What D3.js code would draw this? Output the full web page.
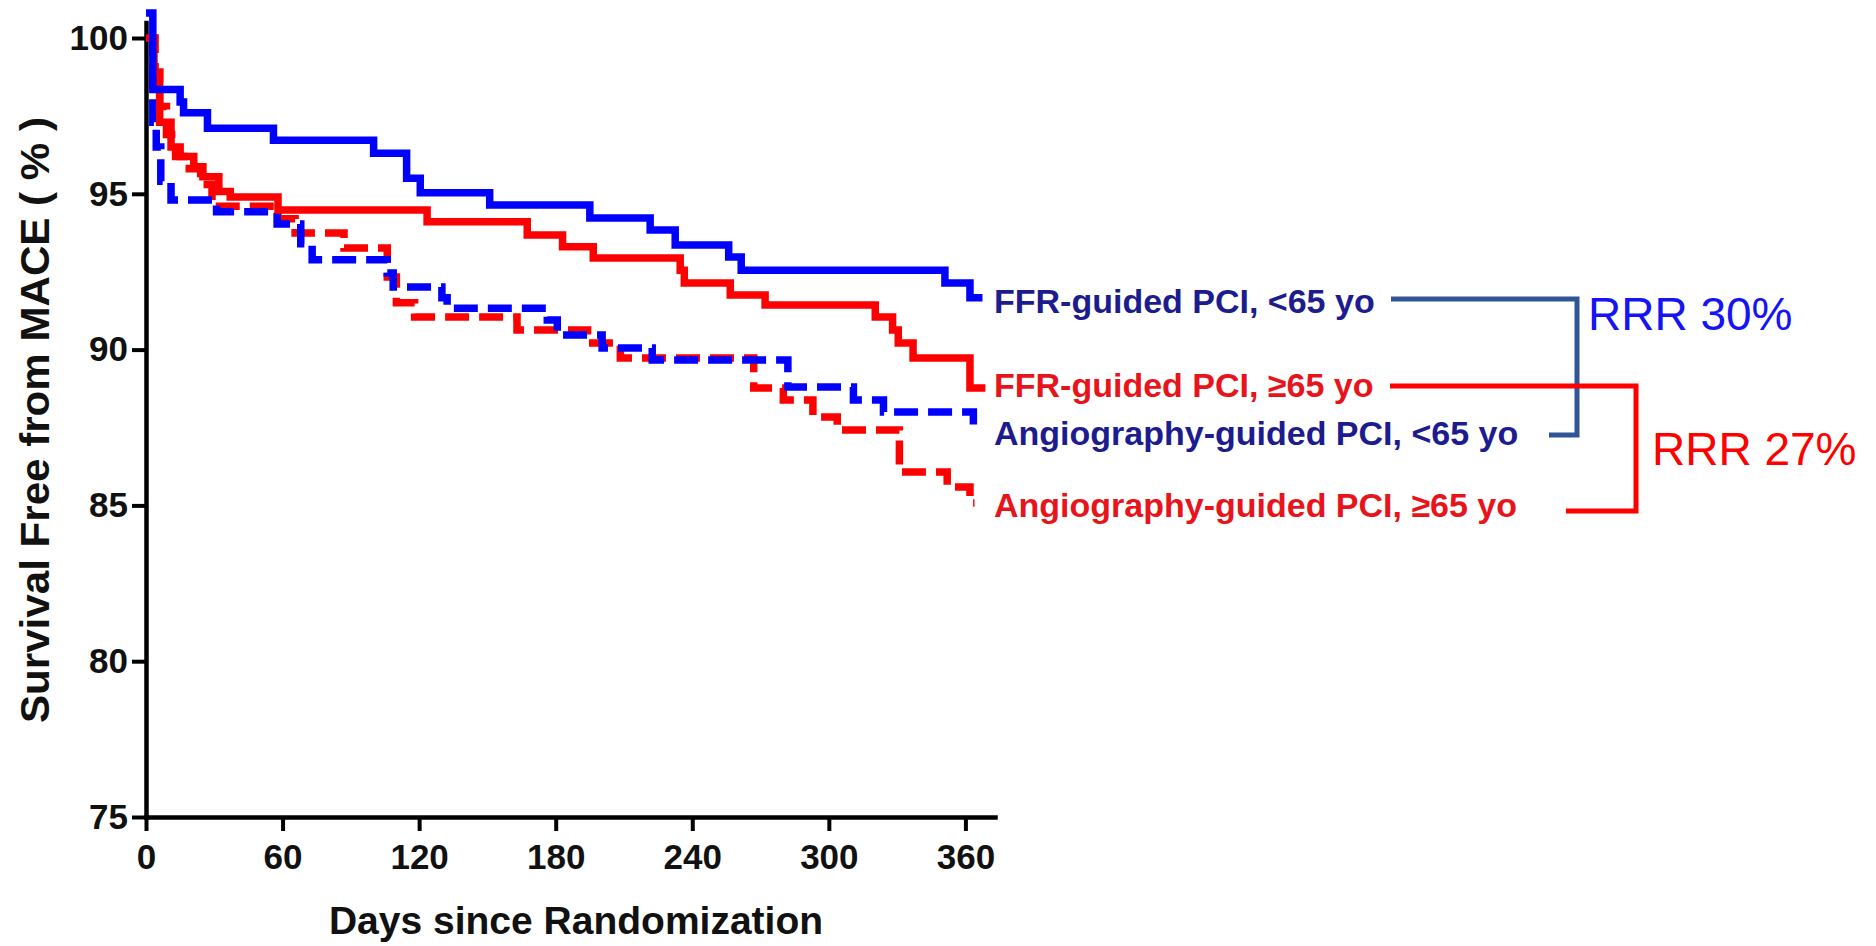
<!DOCTYPE html>
<html><head><meta charset="utf-8">
<script src="https://cdn.jsdelivr.net/npm/d3@7"></script>
<style>html,body{margin:0;padding:0;background:#fff;} svg{display:block;}</style>
</head><body>
<svg id="chart" width="1876" height="946"></svg>
<script>
// ---------- data ----------
const dayTicks = [0, 60, 120, 180, 240, 300, 360];
const survTicks = [75, 80, 85, 90, 95, 100];

// FFR-guided PCI, <65 yo (solid blue)
const ffrYoungDays = [0, 3, 15, 16.5, 27, 56, 100, 114.5, 120.5, 151, 195, 221.5, 232.5, 256, 261.5, 351, 362, 367.5];
const ffrYoungSurv = [100.8, 98.35, 97.95, 97.6, 97.1, 96.72, 96.3, 95.5, 95.03, 94.64, 94.22, 93.84, 93.36, 92.97, 92.55, 92.14, 91.66, 91.66];

// FFR-guided PCI, >=65 yo (solid red)
const ffrOldDays = [0, 3.5, 6, 11, 15, 21, 25, 32, 37, 58, 123.5, 167.5, 183, 196.5, 234.7, 236.5, 256.7, 272, 320.4, 328, 330.5, 337, 362, 368.8];
const ffrOldSurv = [100, 98.9, 97.3, 96.5, 96.2, 95.87, 95.55, 95.07, 94.9, 94.48, 94.1, 93.68, 93.3, 92.94, 92.55, 92.14, 91.75, 91.43, 91.05, 90.63, 90.21, 89.73, 88.77, 88.77];

// Angiography-guided PCI, <65 yo (dashed blue)
const angioYoungDays = [0, 3, 4.5, 6.5, 11, 31, 57.6, 68, 73, 106, 108.6, 130, 132.3, 176.3, 180.7, 200.4, 222.4, 282, 310.8, 324, 363.5, 364.5];
const angioYoungSurv = [100, 97.3, 96.5, 95.4, 94.8, 94.42, 94.03, 93.4, 92.88, 92.46, 92.01, 91.66, 91.33, 90.95, 90.47, 90.05, 89.67, 88.8, 88.38, 88.0, 87.52, 87.52];

// Angiography-guided PCI, >=65 yo (dashed red)
const angioOldDays = [0, 4, 6, 9, 13, 19, 24, 29, 58, 65.5, 87, 106, 110, 118, 163, 194, 208.4, 267, 280, 293, 303.7, 331, 352, 362, 364];
const angioOldSurv = [100, 98.9, 97.8, 96.9, 96.2, 95.8, 95.3, 94.6, 94.2, 93.74, 93.26, 92.33, 91.5, 91.05, 90.63, 90.21, 89.73, 88.77, 88.38, 87.84, 87.42, 86.07, 85.59, 85.08, 85.08];

const seriesLabels = ["FFR-guided PCI, <65 yo", "FFR-guided PCI, \u226565 yo", "Angiography-guided PCI, <65 yo", "Angiography-guided PCI, \u226565 yo"];
const rrrLabels = ["RRR 30%", "RRR 27%"];
const xTitle = "Days since Randomization";
const yTitle = "Survival Free from MACE ( % )";

// ---------- layout ----------
const svg = d3.select("#chart");
const x = d3.scaleLinear().domain([0, 373]).range([146, 995]);
const y = d3.scaleLinear().domain([75, 100.5]).range([817, 817 - 25.5 * 31.16]);

const BLUE = "#0000ff", RED = "#ff0000";
const NAVY = "#1c1c8e", LRED = "#e8141c";

function zip(d, s) { return d.map((v, i) => [v, s[i]]); }

const series = [
  { pts: zip(angioOldDays, angioOldSurv), color: RED, dash: "24,10" },
  { pts: zip(angioYoungDays, angioYoungSurv), color: BLUE, dash: "24,10" },
  { pts: zip(ffrOldDays, ffrOldSurv), color: RED, dash: null },
  { pts: zip(ffrYoungDays, ffrYoungSurv), color: BLUE, dash: null }
];

const line = d3.line().x(d => x(d[0])).y(d => y(d[1])).curve(d3.curveStepAfter);

// axes
const font = "'Liberation Sans', Arial, sans-serif";
const gx = svg.append("g").attr("transform", "translate(0,817)")
  .call(d3.axisBottom(x).tickValues(dayTicks).tickSize(14).tickPadding(13).tickSizeOuter(0));
const gy = svg.append("g").attr("transform", "translate(146,0)")
  .call(d3.axisLeft(y).tickValues(survTicks).tickSize(14).tickPadding(4).tickSizeOuter(0));
[gx, gy].forEach(g => {
  g.select(".domain").attr("stroke", "#000").attr("stroke-width", 4.5).attr("stroke-linecap", "square");
  g.selectAll(".tick line").attr("stroke", "#000").attr("stroke-width", 4);
  g.selectAll(".tick text").attr("fill", "#111").style("font-family", font)
    .style("font-size", "35px").style("font-weight", "bold");
});

// curves
svg.append("g").selectAll("path").data(series).join("path")
  .attr("d", d => line(d.pts))
  .attr("fill", "none")
  .attr("stroke", d => d.color)
  .attr("stroke-width", 7.5)
  .attr("stroke-dasharray", d => d.dash);

// axis titles
svg.append("text").attr("x", 576).attr("y", 934).attr("text-anchor", "middle")
  .style("font-family", font).style("font-size", "39px").style("font-weight", "bold")
  .attr("fill", "#111").text(xTitle);
svg.append("text").attr("transform", "translate(49,420) rotate(-90)").attr("text-anchor", "middle")
  .style("font-family", font).style("font-size", "40px").style("font-weight", "bold")
  .attr("textLength", 606).attr("lengthAdjust", "spacingAndGlyphs")
  .attr("fill", "#111").text(yTitle);

// curve labels
const labelLayout = [
  { y: 313, color: NAVY },
  { y: 397, color: LRED },
  { y: 445, color: NAVY },
  { y: 517, color: LRED }
];
svg.append("g").selectAll("text").data(seriesLabels).join("text")
  .attr("x", 994).attr("y", (d, i) => labelLayout[i].y)
  .attr("fill", (d, i) => labelLayout[i].color)
  .style("font-family", font).style("font-size", "34px").style("font-weight", "bold")
  .text(d => d);

// brackets
svg.append("path").attr("d", "M1391,299 H1577 V435 H1549")
  .attr("fill", "none").attr("stroke", "#2f5597").attr("stroke-width", 5);
svg.append("path").attr("d", "M1390,386 H1636 V511 H1566")
  .attr("fill", "none").attr("stroke", RED).attr("stroke-width", 5);

svg.append("text").attr("x", 1588).attr("y", 330).attr("fill", "#1414f5")
  .style("font-family", font).style("font-size", "46px").text(rrrLabels[0]);
svg.append("text").attr("x", 1652).attr("y", 465).attr("fill", RED)
  .style("font-family", font).style("font-size", "46px").text(rrrLabels[1]);
</script>
</body></html>
